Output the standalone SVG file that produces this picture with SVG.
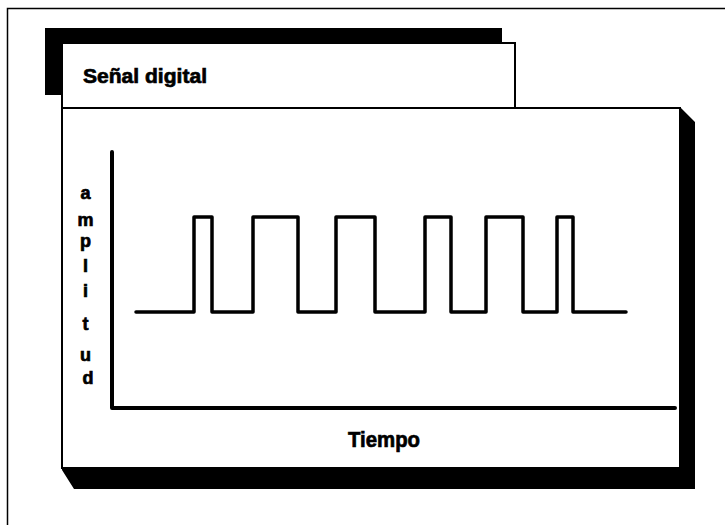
<svg xmlns="http://www.w3.org/2000/svg" width="725" height="525" viewBox="0 0 725 525">
  <style>
    .shadow { fill: #000; stroke: none; }
    .panel { fill: #fff; stroke: #000; stroke-width: 2; }
    .line { fill: none; stroke: #000; stroke-linecap: round; stroke-linejoin: round; }
    .lbl { font-family: "Liberation Sans", Arial, sans-serif; font-weight: bold; fill: #000; stroke: #000; stroke-width: 0.7; }
  </style>
  <rect width="725" height="525" fill="#fff"/>
  <g id="frame">
    <path d="M7.5,525 V8.5 H725" fill="none" stroke="#000" stroke-width="1.5"/>
  </g>
  <g id="title-tab">
    <rect class="shadow" x="45" y="28" width="457" height="67"/>
    <rect class="panel" x="62" y="43" width="453" height="65"/>
    <text class="lbl" x="83" y="83" font-size="21" textLength="124" lengthAdjust="spacingAndGlyphs">Señal digital</text>
  </g>
  <g id="main-panel">
    <polygon class="shadow" points="680,107 695,122 695,489 74,489 62,470 62,468 680,468"/>
    <rect class="panel" x="62" y="108" width="618" height="360"/>
  </g>
  <g id="y-label">
    <text class="lbl" font-size="18" text-anchor="middle">
      <tspan x="88" y="199">a</tspan>
      <tspan x="88" y="226">m</tspan>
      <tspan x="88" y="247">p</tspan>
      <tspan x="88" y="272">l</tspan>
      <tspan x="88" y="297">i</tspan>
      <tspan x="88" y="330">t</tspan>
      <tspan x="88" y="361">u</tspan>
      <tspan x="88" y="384">d</tspan>
    </text>
  </g>
  <g id="x-label">
    <text class="lbl" x="348" y="447" font-size="22" textLength="72" lengthAdjust="spacingAndGlyphs">Tiempo</text>
  </g>
  <g id="connectors">
    <path id="axes" class="line" stroke-width="4" d="M112,152 V408 H675"/>
    <polyline id="signal" class="line" stroke-width="3.5" points="136,312 194,312 194,217 212,217 212,312 253,312 253,217 298,217 298,312 336,312 336,217 375,217 375,312 425,312 425,217 451,217 451,312 486,312 486,217 523,217 523,312 557,312 557,217 573,217 573,312 626,312"/>
  </g>
</svg>
